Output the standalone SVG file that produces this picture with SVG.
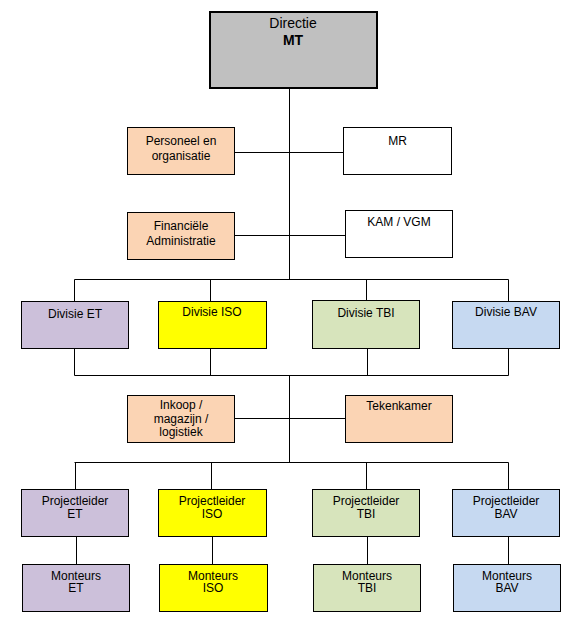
<svg xmlns="http://www.w3.org/2000/svg" width="580" height="626" viewBox="0 0 580 626">
<style>
g rect{stroke:#000;stroke-width:1}
text{font-family:"Liberation Sans",Arial,sans-serif;font-size:12px;text-anchor:middle;fill:#000}
.c line{stroke:#000;stroke-width:1}
.peach{fill:#FBD4B4}.white{fill:#FFF}.lav{fill:#CCC0DA}.yel{fill:#FFFF00}.grn{fill:#D7E4BC}.blu{fill:#C6D9F1}
</style>
<rect width="580" height="626" fill="#fff"/>
<g class="c" id="connectors">
<line x1="289.5" y1="88" x2="289.5" y2="279.5"/>
<line x1="235" y1="152.5" x2="343" y2="152.5"/>
<line x1="235" y1="235.5" x2="346" y2="235.5"/>
<line x1="74.5" y1="279.5" x2="508.5" y2="279.5"/>
<line x1="74.5" y1="279.5" x2="74.5" y2="301"/>
<line x1="210.5" y1="279.5" x2="210.5" y2="301"/>
<line x1="366.5" y1="279.5" x2="366.5" y2="301"/>
<line x1="508.5" y1="279.5" x2="508.5" y2="301"/>
<line x1="74.5" y1="349" x2="74.5" y2="375.5"/>
<line x1="210.5" y1="349" x2="210.5" y2="375.5"/>
<line x1="367.5" y1="349" x2="367.5" y2="375.5"/>
<line x1="508.5" y1="349" x2="508.5" y2="375.5"/>
<line x1="74.5" y1="375.5" x2="508.5" y2="375.5"/>
<line x1="289.5" y1="375.5" x2="289.5" y2="462.5"/>
<line x1="235" y1="418.5" x2="346" y2="418.5"/>
<line x1="74.5" y1="462.5" x2="508.5" y2="462.5"/>
<line x1="75.5" y1="462.5" x2="75.5" y2="489"/>
<line x1="211.5" y1="462.5" x2="211.5" y2="489"/>
<line x1="366.5" y1="462.5" x2="366.5" y2="489"/>
<line x1="508.5" y1="462.5" x2="508.5" y2="489"/>
<line x1="76.5" y1="537" x2="76.5" y2="564"/>
<line x1="212.5" y1="537" x2="212.5" y2="564"/>
<line x1="367.5" y1="537" x2="367.5" y2="564"/>
<line x1="508.5" y1="537" x2="508.5" y2="564"/>
</g>
<g id="directie"><rect x="210" y="12" width="167" height="76" fill="#C0C0C0" style="stroke-width:2"/><text x="293" y="28" style="font-size:14px">Directie</text><text x="293" y="45" style="font-size:14px;font-weight:bold">MT</text></g>
<g id="personeel"><rect class="peach" x="127.5" y="127.5" width="107" height="47"/><text x="181" y="144.5">Personeel en</text><text x="181" y="159.5">organisatie</text></g>
<g id="mr"><rect class="white" x="343.5" y="127.5" width="108" height="47"/><text x="397.5" y="145">MR</text></g>
<g id="financieel"><rect class="peach" x="127.5" y="212.5" width="107" height="47"/><text x="181" y="229.5">Financiële</text><text x="181" y="244.5">Administratie</text></g>
<g id="kam"><rect class="white" x="345.5" y="210.5" width="107" height="47"/><text x="399" y="226">KAM / VGM</text></g>
<g id="div-et"><rect class="lav" x="21.5" y="301.5" width="107" height="47"/><text x="75" y="318">Divisie ET</text></g>
<g id="div-iso"><rect class="yel" x="158.5" y="301.5" width="108" height="47"/><text x="212" y="316">Divisie ISO</text></g>
<g id="div-tbi"><rect class="grn" x="312.5" y="300.5" width="107" height="48"/><text x="366" y="317">Divisie TBI</text></g>
<g id="div-bav"><rect class="blu" x="452.5" y="301.5" width="107" height="47"/><text x="506" y="316">Divisie BAV</text></g>
<g id="inkoop"><rect class="peach" x="127.5" y="395.5" width="107" height="47"/><text x="181" y="409">Inkoop /</text><text x="181" y="422.5">magazijn /</text><text x="181" y="436">logistiek</text></g>
<g id="tekenkamer"><rect class="peach" x="345.5" y="395.5" width="107" height="47"/><text x="399" y="410">Tekenkamer</text></g>
<g id="pl-et"><rect class="lav" x="21.5" y="489.5" width="107" height="47"/><text x="75" y="505">Projectleider</text><text x="75" y="517.5">ET</text></g>
<g id="pl-iso"><rect class="yel" x="158.5" y="489.5" width="108" height="47"/><text x="212" y="505">Projectleider</text><text x="212" y="517.5">ISO</text></g>
<g id="pl-tbi"><rect class="grn" x="312.5" y="489.5" width="107" height="47"/><text x="366" y="505">Projectleider</text><text x="366" y="517.5">TBI</text></g>
<g id="pl-bav"><rect class="blu" x="452.5" y="489.5" width="107" height="47"/><text x="506" y="505">Projectleider</text><text x="506" y="517.5">BAV</text></g>
<g id="m-et"><rect class="lav" x="22.5" y="564.5" width="107" height="47"/><text x="76" y="579.5">Monteurs</text><text x="76" y="592">ET</text></g>
<g id="m-iso"><rect class="yel" x="159.5" y="564.5" width="108" height="47"/><text x="213" y="579.5">Monteurs</text><text x="213" y="592">ISO</text></g>
<g id="m-tbi"><rect class="grn" x="313.5" y="564.5" width="107" height="47"/><text x="367" y="579.5">Monteurs</text><text x="367" y="592">TBI</text></g>
<g id="m-bav"><rect class="blu" x="453.5" y="564.5" width="107" height="47"/><text x="507" y="579.5">Monteurs</text><text x="507" y="592">BAV</text></g>
</svg>
